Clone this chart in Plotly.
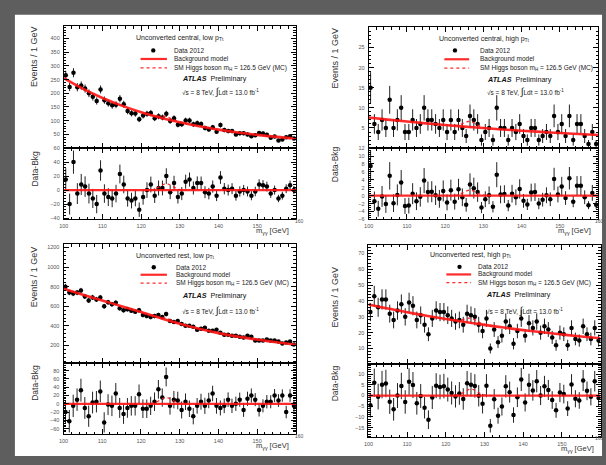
import numpy as np
import plotly.graph_objects as go

W, H = 606, 465
FONT = "Liberation Sans, Arial, sans-serif"

# ---------------- data ----------------
mass = [100.5 + i for i in range(60)]          # bin centres (1 GeV bins)
bkg_mass = [100, 105, 110, 115, 120, 125, 130, 135, 140, 145, 150, 155, 160]
sig_mass = [121, 122, 123, 124, 125, 126, 126.5, 127, 128, 129, 130, 131, 132]
x_ticks = [100, 110, 120, 130, 140, 150, 160]
x_tick_text = ["100", "110", "120", "130", "140", "150", ""]
zero_x = [100, 160]
zero_y = [0, 0]

# Unconverted central, low pTt
tl_data = [266, 223, 275, 222, 228, 217, 200, 187, 172, 214, 175, 164, 156, 158, 180, 160, 135, 127, 126, 105,
           119, 125, 128, 109, 116, 112, 125, 99, 109, 85, 87, 101, 101, 87, 91, 88, 73, 68, 76, 60,
           84, 66, 62, 62, 50, 54, 54, 50, 43, 47, 55, 53, 49, 38, 42, 28, 31, 40, 43, 35]
tl_res = [15, -20, 40, -5, 8, 5, -5, -12, -20, 28, -5, -10, -12, -5, 23, 8, -12, -15, -12, -28,
          -10, 0, 8, -8, 3, 3, 20, -3, 10, -10, -5, 12, 15, 3, 10, 10, -3, -5, 5, -8,
          18, 2, 0, 2, -8, -2, 0, -2, -8, -2, 8, 7, 5, -5, 0, -12, -8, 2, 7, 0]
tl_bkg = [255, 216, 183, 155, 131, 111, 94, 79.5, 67.4, 57.0, 48.3, 40.9, 34.5]
tl_sb = [126.6, 122.6, 119.3, 117.3, 116.6, 115.8, 114.4, 112.3, 106.1, 99.7, 94.6, 90.9, 87.7]
tl_sig = [0, 0.2, 0.8, 2.7, 5.8, 8.6, 9, 8.6, 5.8, 2.7, 0.8, 0.2, 0]

# Unconverted central, high pTt
tr_data = [15, 6, 4, 7, 5, 12, 5, 7, 10, 4, 4, 7, 5, 6, 10, 7, 7, 6, 5, 7,
           4, 7, 4, 7, 5, 3, 8, 7, 6, 2, 4, 5, 2, 10, 5, 5, 2, 5, 4, 6,
           3, 2, 5, 5, 2, 3, 4, 3, 8, 4, 6, 3, 8, 2, 6, 6, 3, 1, 4, 1]
tr_res = [7.5, -1.4, -3.3, -0.2, -2.1, 5.0, -1.9, 0.2, 3.3, -2.6, -2.5, 0.5, -1.4, -0.3, 3.8, 0.9, 1.0, 0.1, -0.8, 1.2,
          -1.7, 1.4, -1.5, 1.6, -0.4, -2.3, 2.8, 1.9, 0.9, -3.0, -0.9, 0.1, -2.8, 5.3, 0.3, 0.4, -2.5, 0.5, -0.4, 1.7,
          -1.3, -2.2, 0.8, 0.9, -2.0, -1.0, 0.1, -0.9, 4.2, 0.3, 2.3, -0.6, 4.4, -1.5, 2.5, 2.5, -0.4, -2.4, 0.7, -2.3]
tr_bkg = [7.6, 7.08, 6.60, 6.15, 5.73, 5.34, 4.98, 4.64, 4.32, 4.03, 3.75, 3.50, 3.26]
tr_sb = [5.67, 5.62, 5.64, 5.85, 6.26, 6.61, 6.64, 6.54, 6.03, 5.48, 5.12, 4.95, 4.85]
tr_sig = [0, 0.03, 0.13, 0.42, 0.9, 1.33, 1.4, 1.33, 0.9, 0.42, 0.13, 0.03, 0]

# Unconverted rest, low pTt
bl_data = [800, 740, 730, 740, 760, 700, 660, 690, 670, 690, 600, 640, 620, 635, 580, 560, 570, 555, 545, 560,
           510, 500, 490, 500, 510, 490, 520, 450, 440, 450, 420, 400, 400, 390, 360, 370, 380, 350, 350, 360,
           330, 310, 310, 300, 300, 290, 280, 300, 290, 250, 250, 250, 260, 250, 250, 240, 220, 230, 240, 210]
bl_res = [-20, -42, -5, 10, 33, -10, -30, 3, 5, 30, -45, -2, -5, 25, -10, -25, -10, -5, -5, 23,
          -12, -12, -5, 5, 35, 15, 65, -5, 10, 8, -15, 5, -12, -30, -5, 5, -5, 8, 25, -5,
          -10, -5, 10, -5, 0, 10, -15, 12, 20, 10, -15, -5, 5, 5, 20, 8, 20, -20, 20, -5]
bl_bkg = [778, 718, 659, 600, 541, 480, 422, 370, 326, 290, 260, 232, 207]
bl_sb = [529, 517.3, 505.4, 496.4, 489.7, 482.3, 478, 471.3, 454.7, 438.4, 423.4, 412.3, 401]
bl_sig = [0, 0.3, 1.4, 4.4, 9.7, 14.3, 15, 14.3, 9.7, 4.4, 1.4, 0.3, 0]

# Unconverted rest, high pTt
br_data = [33, 43, 36, 41, 41, 32, 28, 34, 38, 30, 39, 37, 28, 31, 25, 19, 29, 34, 33, 33,
           31, 29, 27, 28, 25, 32, 31, 30, 25, 21, 29, 10, 22, 14, 18, 27, 24, 13, 21, 29,
           18, 26, 23, 27, 20, 24, 22, 17, 12, 20, 19, 12, 23, 16, 15, 24, 19, 16, 23, 15]
br_res = [-4.5, 6.0, -0.5, 5.1, 5.6, -2.9, -6.4, 0.0, 4.5, -3.0, 6.5, 4.9, -3.6, -0.2, -5.7, -11.3, -0.9, 4.6, 4.0, 4.4,
          2.8, 1.2, -0.4, 1.0, -1.6, 5.8, 5.1, 4.5, -0.1, -3.8, 4.6, -14.1, -1.7, -9.4, -5.1, 4.3, 1.6, -9.1, -0.8, 7.5,
          -3.2, 5.1, 2.4, 6.7, 0.0, 4.3, 2.6, -2.1, -6.9, 1.4, 0.7, -6.1, 5.2, -1.5, -2.3, 7.0, 2.2, -0.6, 6.7, -1.1]
br_bkg = [37.8, 35.2, 32.9, 30.7, 28.6, 26.7, 24.9, 23.2, 21.6, 20.2, 18.8, 17.6, 16.4]
br_sb = [28.2, 27.9, 27.7, 27.9, 28.6, 29.2, 29.1, 28.8, 27.4, 26.1, 25.2, 24.6, 24.2]
br_sig = [0, 0.06, 0.27, 0.9, 1.9, 2.85, 3, 2.85, 1.9, 0.9, 0.27, 0.06, 0]

titles = ["Unconverted central, low p<sub>Tt</sub>", "Unconverted central, high p<sub>Tt</sub>",
          "Unconverted rest, low p<sub>Tt</sub>", "Unconverted rest, high p<sub>Tt</sub>"]
legend_labels = ["Data 2012", "Background model", "SM Higgs boson m<sub>H</sub> = 126.5 GeV (MC)"]
lumi_text = "√s = 8 TeV, <span style='font-size:10px'>∫</span>Ldt = 13.0 fb<sup>-1</sup>"

# ---------------- layout geometry (pixels) ----------------
panels = [
    dict(data=tl_data, res=tl_res, bkg=tl_bkg, sb=tl_sb, sig=tl_sig, title=titles[0],
         xd=(59.3, 293.3), md=(23.7, 147), rd=(147, 219.3),
         yr=[0, 444], yt=[50, 100, 150, 200, 250, 300, 350, 400], ym=10,
         rr=[-42, 60], rt=[-40, -20, 0, 20, 40, 60], rm=4,
         tx=130, ty=35.5, mk=149.5, l0=136.7, l1=163.3, lx=168.5, ly=(48, 56.7, 65.7),
         ax=176, ay=76.7, sy=90, evy=54, dby=168, ytx=30, xlab_y=224, xtit_y=231, x160=297),
    dict(data=tr_data, res=tr_res, bkg=tr_bkg, sb=tr_sb, sig=tr_sig, title=titles[1],
         xd=(366.7, 598), md=(24.7, 147), rd=(147, 219.3),
         yr=[0, 30], yt=[5, 10, 15, 20, 25], ym=1,
         rr=[-6, 12], rt=[-6, -4, -2, 0, 2, 4, 6, 8, 10, 12], rm=0.5,
         tx=436, ty=36, mk=453.7, l0=443, l1=468, lx=477, ly=(48, 57, 66),
         ax=484, ay=77, sy=90, evy=56, dby=163, ytx=333, xlab_y=224, xtit_y=231, x160=599),
    dict(data=bl_data, res=bl_res, bkg=bl_bkg, sb=bl_sb, sig=bl_sig, title=titles[2],
         xd=(59, 293.3), md=(244.3, 365), rd=(365, 437),
         yr=[18, 1234], yt=[200, 400, 600, 800, 1000, 1200], ym=40,
         rr=[-74, 98], rt=[-60, -40, -20, 0, 20, 40, 60, 80], rm=4,
         tx=130, ty=256, mk=150, l0=136.7, l1=163.3, lx=170, ly=(267.7, 275.3, 283.7),
         ax=176, ay=296, sy=312, evy=277, dby=385, ytx=30, xlab_y=442, xtit_y=449, x160=297),
    dict(data=br_data, res=br_res, bkg=br_bkg, sb=br_sb, sig=br_sig, title=titles[3],
         xd=(366.5, 600.5), md=(245, 366), rd=(366, 440),
         yr=[0, 75.5], yt=[10, 20, 30, 40, 50, 60, 70], ym=2,
         rr=[-19.5, 14.6], rt=[-15, -10, -5, 0, 5, 10], rm=1,
         tx=427, ty=255.7, mk=458.3, l0=445, l1=470, lx=475, ly=(267.3, 275, 283.3),
         ax=483.3, ay=295.7, sy=311.7, evy=298, dby=385, ytx=333, xlab_y=444, xtit_y=452, x160=599),
]


def fx(p):
    return p / W


def fy(p):
    return 1 - p / H


RED = "rgba(255,20,20,0.9)"
TICKFONT = dict(size=5.5, color="#555", family=FONT)

fig = go.Figure()
layout = dict(width=W, height=H, margin=dict(l=0, r=0, t=0, b=0), autosize=False,
              paper_bgcolor="#5e5e5e", plot_bgcolor="white", showlegend=False,
              font=dict(family=FONT))
shapes = [dict(type="rect", xref="paper", yref="paper", x0=fx(10), x1=fx(602), y0=fy(459), y1=fy(12),
               fillcolor="white", line=dict(width=0), layer="below")]
annotations = []


def axis_base():
    return dict(showline=True, linecolor="black", linewidth=1, mirror="ticks", ticks="inside",
                tickcolor="black", ticklen=5, tickwidth=1, showgrid=False, zeroline=False,
                tickfont=TICKFONT)


def ann(text, x, y, size, xanchor="left", color="#222", angle=0, yanchor="middle"):
    annotations.append(dict(text=text, x=fx(x), y=fy(y), xref="paper", yref="paper",
                            xanchor=xanchor, yanchor=yanchor, showarrow=False, textangle=angle,
                            font=dict(size=size, color=color, family=FONT)))


for k, p in enumerate(panels):
    mi, ri = 2 * k + 1, 2 * k + 2
    sm = "" if mi == 1 else str(mi)
    sr = str(ri)
    err = np.sqrt(np.array(p["data"], dtype=float))

    # main panel
    fig.add_trace(go.Scatter(x=mass, y=p["data"], mode="markers",
                             marker=dict(size=4.5, color="black"),
                             error_y=dict(type="data", array=err, width=0, thickness=1, color="#222"),
                             xaxis="x" + sm, yaxis="y" + sm))
    fig.add_trace(go.Scatter(x=bkg_mass, y=p["bkg"], mode="lines", line=dict(color=RED, width=2.6, shape="spline"),
                             xaxis="x" + sm, yaxis="y" + sm))
    fig.add_trace(go.Scatter(x=sig_mass, y=p["sb"], mode="lines",
                             line=dict(color=RED, width=1.3, dash="dot", shape="spline"),
                             xaxis="x" + sm, yaxis="y" + sm))
    # residual panel
    fig.add_trace(go.Scatter(x=mass, y=p["res"], mode="markers",
                             marker=dict(size=4.5, color="black"),
                             error_y=dict(type="data", array=err, width=0, thickness=1, color="#222"),
                             xaxis="x" + sr, yaxis="y" + sr))
    fig.add_trace(go.Scatter(x=zero_x, y=zero_y, mode="lines", line=dict(color=RED, width=2.2),
                             xaxis="x" + sr, yaxis="y" + sr))
    fig.add_trace(go.Scatter(x=sig_mass, y=p["sig"], mode="lines",
                             line=dict(color=RED, width=1.3, dash="dot", shape="spline"),
                             xaxis="x" + sr, yaxis="y" + sr))

    xdom = [fx(p["xd"][0]), fx(p["xd"][1])]
    xm = axis_base()
    xm.update(domain=xdom, range=[100, 160], tickvals=x_ticks, showticklabels=False,
              minor=dict(dtick=2, tick0=100, ticklen=2.5, ticks="inside", tickcolor="black"),
              anchor="y" + sm)
    xr = axis_base()
    xr.update(domain=xdom, range=[100, 160], tickvals=x_ticks, ticktext=x_tick_text,
              minor=dict(dtick=2, tick0=100, ticklen=2.5, ticks="inside", tickcolor="black"),
              anchor="y" + sr, ticklabelstandoff=1)
    ym_ = axis_base()
    ym_.update(domain=[fy(p["md"][1]), fy(p["md"][0])], range=p["yr"], tickvals=p["yt"],
               minor=dict(dtick=p["ym"], tick0=0, ticklen=2.5, ticks="inside", tickcolor="black"),
               anchor="x" + sm, ticklabelstandoff=2)
    yr_ = axis_base()
    yr_.update(domain=[fy(p["rd"][1]), fy(p["rd"][0])], range=p["rr"], tickvals=p["rt"],
               minor=dict(dtick=p["rm"], tick0=0, ticklen=2.5, ticks="inside", tickcolor="black"),
               anchor="x" + sr, ticklabelstandoff=2)
    layout["xaxis" + sm] = xm
    layout["yaxis" + sm] = ym_
    layout["xaxis" + sr] = xr
    layout["yaxis" + sr] = yr_

    ann(p["title"], p["tx"], p["ty"], 7)
    ann(legend_labels[0], p["lx"], p["ly"][0], 6.5)
    ann(legend_labels[1], p["lx"], p["ly"][1], 6.5)
    ann(legend_labels[2], p["lx"], p["ly"][2], 6.5)
    ann("<b><i>ATLAS</i></b>  Preliminary", p["ax"], p["ay"], 7.2, color="#111")
    ann(lumi_text, p["ax"], p["sy"], 6.5)
    ann("Events / 1 GeV", p["ytx"], p["evy"], 9, xanchor="center", color="#333", angle=-90)
    ann("Data-Bkg", p["ytx"], p["dby"], 8.5, xanchor="center", color="#333", angle=-90)
    ann("m<sub>γγ</sub> [GeV]", p["xd"][1] - 5, p["xtit_y"], 7.5, xanchor="right", color="#333")
    ann("160", p["x160"], p["xlab_y"] - 3, 5, xanchor="center", color="#555")

    # legend symbols
    r = 2.2
    shapes.append(dict(type="circle", xref="paper", yref="paper",
                       x0=fx(p["mk"] - r), x1=fx(p["mk"] + r), y0=fy(p["ly"][0] + r), y1=fy(p["ly"][0] - r),
                       fillcolor="black", line=dict(width=0)))
    shapes.append(dict(type="line", xref="paper", yref="paper", x0=fx(p["l0"]), x1=fx(p["l1"]),
                       y0=fy(p["ly"][1]), y1=fy(p["ly"][1]), line=dict(color=RED, width=2.2)))
    shapes.append(dict(type="line", xref="paper", yref="paper", x0=fx(p["l0"]), x1=fx(p["l1"]),
                       y0=fy(p["ly"][2]), y1=fy(p["ly"][2]), line=dict(color=RED, width=1.3, dash="dot")))

layout["shapes"] = shapes
layout["annotations"] = annotations
fig.update_layout(**layout)
fig.write_html("out.html")
